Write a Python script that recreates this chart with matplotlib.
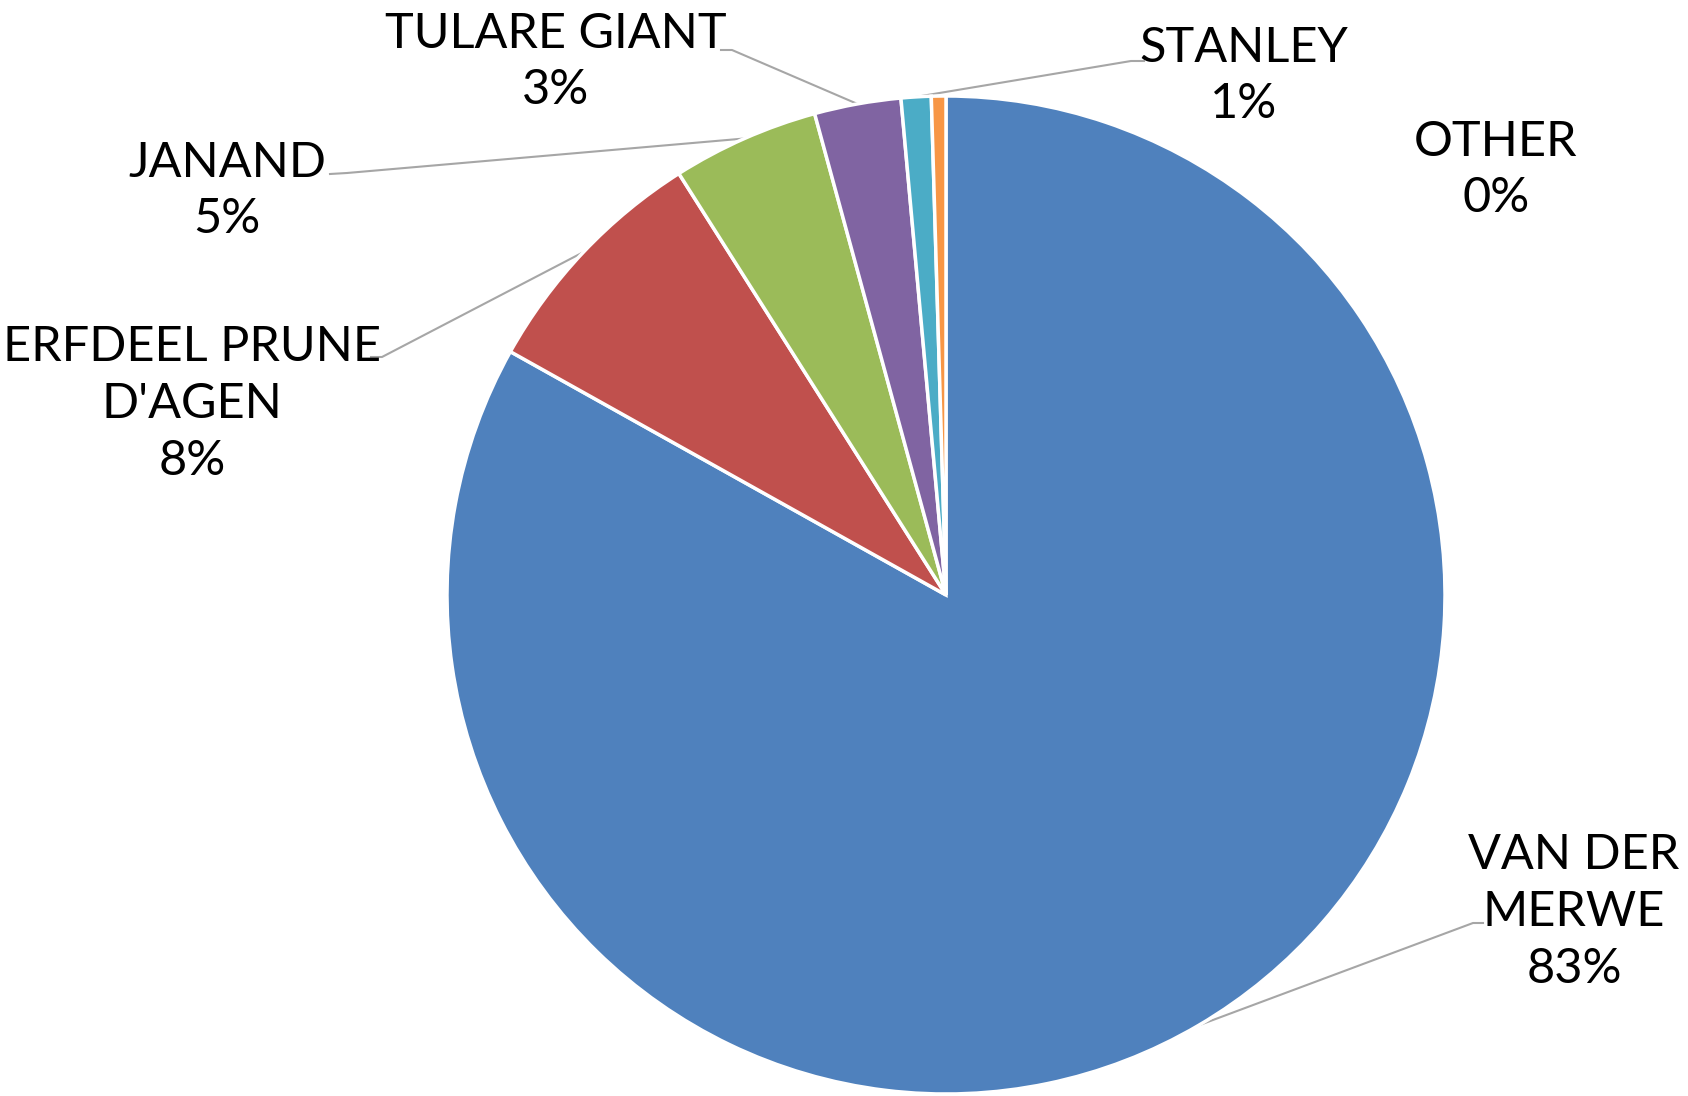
import matplotlib
matplotlib.use("Agg")
import matplotlib.pyplot as plt
from matplotlib import font_manager
import numpy as np

# cultivar share, clockwise from 12 o'clock
cultivars = ["VAN DER\nMERWE", "ERFDEEL PRUNE\nD'AGEN", "JANAND", "TULARE GIANT", "STANLEY", "OTHER"]
shares = [83.1, 7.9, 4.75, 2.8, 0.97, 0.47]
colours = ["#4F81BD", "#C0504D", "#9BBB59", "#8064A2", "#4BACC6", "#F79646"]

W, H = 1688, 1096
names = {f.name for f in font_manager.fontManager.ttflist}
fam = "Lato" if "Lato" in names else "DejaVu Sans"

fig = plt.figure(figsize=(W / 100, H / 100), dpi=100)
ax = fig.add_axes([0, 0, 1, 1])

cx, cy, r = 946, H - 595, 499
wedges, _ = ax.pie(shares, colors=colours, startangle=90, counterclock=False,
                   center=(cx, cy), radius=r, frame=True,
                   wedgeprops=dict(edgecolor="white", linewidth=2.5))
ax.set_xlim(0, W)
ax.set_ylim(0, H)
ax.set_aspect("equal")
ax.axis("off")

total = sum(shares)
# label block centre and leader elbow (image pixel coords, y down); None = no leader
label_pos = [(1574, 912), (192, 404), (227, 191), (556, 62), (1244, 76), (1496, 170)]
elbows = [((1483, 923), (1473, 923)),
          ((371, 357), (382, 357)),
          ((330, 174), (347, 173)),
          ((721, 50), (732, 50)),
          ((1144, 61), (1131, 61)),
          None]

for w, name, v, pos, el in zip(wedges, cultivars, shares, label_pos, elbows):
    txt = name + "\n" + "%.0f%%" % (v / total * 100)
    ax.text(pos[0], H - pos[1], txt, ha="center", va="center", fontsize=35,
            family=fam, weight="normal", color="black", linespacing=1.36)
    if el is not None:
        mid = np.deg2rad((w.theta1 + w.theta2) / 2)
        ex, ey = cx + r * np.cos(mid), cy + r * np.sin(mid)
        xs = [el[0][0], el[1][0], ex]
        ys = [H - el[0][1], H - el[1][1], ey]
        ax.plot(xs, ys, color="#A6A6A6", lw=1.5, zorder=0.5)

fig.savefig("out.png", dpi=100)
